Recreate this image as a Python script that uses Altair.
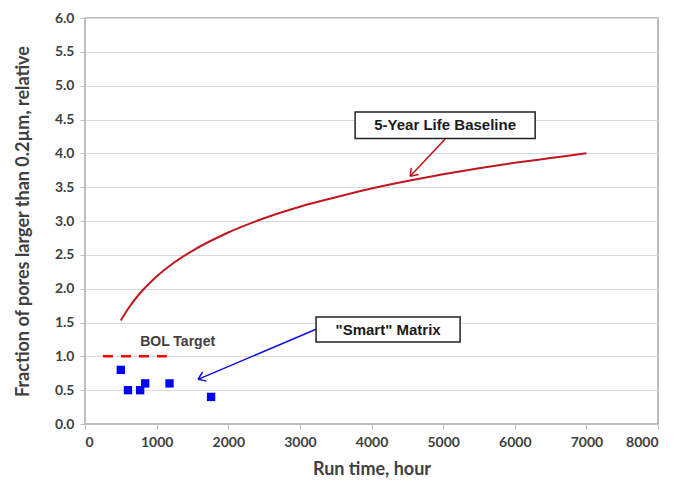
import altair as alt
import pandas as pd

# Baseline curve
curve_hours = [500, 600, 750, 1000, 1250, 1500, 2000, 2500, 3000, 3500, 4000, 4500, 5000, 5500, 6000, 6500, 7000]
curve_vals = [1.53, 1.70, 1.91, 2.18, 2.39, 2.56, 2.83, 3.04, 3.21, 3.35, 3.48, 3.59, 3.69, 3.78, 3.86, 3.93, 4.00]

# "Smart" matrix points
smart_hours = [500, 600, 770, 840, 1180, 1760]
smart_vals = [0.8, 0.5, 0.5, 0.6, 0.6, 0.4]

# BOL target dashed line
bol_hours = [250, 1160]
bol_vals = [1.0, 1.0]

x_ticks = [0, 1000, 2000, 3000, 4000, 5000, 6000, 7000, 8000]
y_ticks = [0.0, 0.5, 1.0, 1.5, 2.0, 2.5, 3.0, 3.5, 4.0, 4.5, 5.0, 5.5, 6.0]

FONT = "Lato"
BOXFONT = "Liberation Sans"
TXT = "#404040"

xs = alt.Scale(domain=[0, 8000], nice=False)
ys = alt.Scale(domain=[0, 6], nice=False)

xaxis = alt.Axis(values=x_ticks, title="Run time, hour", grid=False, format="d",
                 titleFontSize=18, titlePadding=11, labelPadding=6, labelOverlap=False)
yaxis = alt.Axis(values=y_ticks, title="Fraction of pores larger than 0.2µm, relative",
                 format=".1f", grid=True, titleFontSize=18, titlePadding=22, labelPadding=6,
                 labelOverlap=False)


def X(f):
    return alt.X(f, type="quantitative", scale=xs, axis=xaxis)


def Y(f):
    return alt.Y(f, type="quantitative", scale=ys, axis=yaxis)


curve_df = pd.DataFrame({"h": curve_hours, "v": curve_vals})
smart_df = pd.DataFrame({"h": smart_hours, "v": smart_vals})
bol_df = pd.DataFrame({"h": bol_hours, "v": bol_vals})

curve = alt.Chart(curve_df).mark_line(color="#C0171E", strokeWidth=2, interpolate="monotone").encode(
    x=X("h"), y=Y("v"),
)

bol = alt.Chart(bol_df).mark_line(color="#FF0000", strokeWidth=2.5, strokeDash=[10, 8]).encode(
    x=X("h"), y=Y("v")
)

pts = alt.Chart(smart_df).mark_square(color="#0000FF", size=70, opacity=1).encode(
    x=X("h"), y=Y("v")
)

bol_text = alt.Chart(pd.DataFrame({"h": [770], "v": [1.21], "t": ["BOL  Target"]})).mark_text(
    align="left", baseline="middle", font=BOXFONT, fontWeight="bold", fontSize=14, color=TXT
).encode(x=X("h"), y=Y("v"), text="t:N")

# annotation boxes
boxes_df = pd.DataFrame({
    "x1": [3771, 3226], "x2": [6285, 5237],
    "y1": [4.22, 1.21], "y2": [4.61, 1.58],
    "cx": [5028, 4232], "cy": [4.415, 1.395],
    "t": ["5-Year Life Baseline", "\"Smart\" Matrix"],
})
boxes = alt.Chart(boxes_df).mark_rect(fill="white", stroke="#222222", strokeWidth=1.5).encode(
    x=X("x1"), x2="x2:Q", y=Y("y1"), y2="y2:Q"
)
box_text = alt.Chart(boxes_df).mark_text(
    font=BOXFONT, fontWeight="bold", fontSize=15, color="#1a1a1a", baseline="middle"
).encode(x=X("cx"), y=Y("cy"), text="t:N")

# arrows
arrows_df = pd.DataFrame({
    "x1": [5028, 3226], "y1": [4.21, 1.40],
    "x2": [4539, 1578], "y2": [3.66, 0.66],
    "ang": [133, 157], "c": ["red", "blue"],
})
arrow_colors = alt.Scale(domain=["red", "blue"], range=["#C0171E", "#1010E0"])
arrow_lines = alt.Chart(arrows_df).mark_rule(strokeWidth=1.5).encode(
    x=X("x1"), y=Y("y1"), x2="x2:Q", y2="y2:Q",
    color=alt.Color("c:N", scale=arrow_colors, legend=None),
)
arrow_heads = alt.Chart(arrows_df).mark_point(
    shape="M0,0L-1,-0.7M0,0L-1,0.7", filled=False, size=200, strokeWidth=1.5, opacity=1
).encode(
    x=X("x2"), y=Y("y2"),
    angle=alt.Angle("ang:Q", scale=None),
    color=alt.Color("c:N", scale=arrow_colors, legend=None),
)

chart = alt.layer(curve, bol, pts, bol_text, arrow_lines, arrow_heads, boxes, box_text).properties(
    width=573, height=406,
    autosize=alt.AutoSizeParams(type="none"),
    padding={"left": 77, "top": 10, "right": 12, "bottom": 57},
    background="white",
).configure_view(stroke="#a6a6a6", strokeWidth=1.5).configure_axis(
    labelFont=FONT, labelFontWeight="bold", labelFontSize=14, labelColor=TXT,
    titleFont=FONT, titleFontWeight="bold", titleColor=TXT,
    domainColor="#bfbfbf", tickColor="#bfbfbf", tickSize=5,
    gridColor="#d9d9d9", gridWidth=1.2,
)

chart.save("out.html", embed_options={"renderer": "svg", "actions": False})
